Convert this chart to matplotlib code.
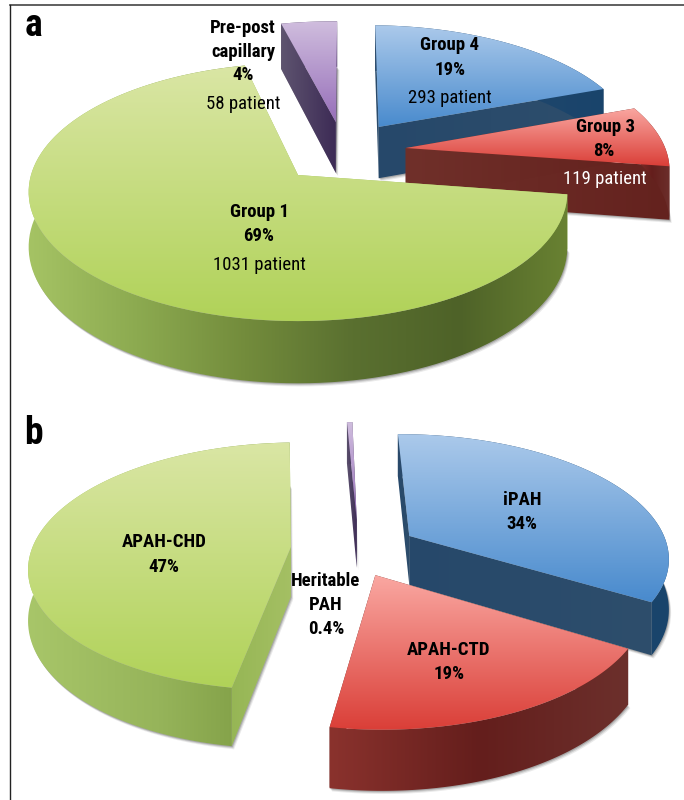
import numpy as np
import matplotlib
matplotlib.use("Agg")
import matplotlib.pyplot as plt
from matplotlib.patches import Polygon

# panel a
a_names = ["Group 1", "Pre-post capillary", "Group 4", "Group 3"]
a_pct = [69, 4, 19, 8]
a_patients = [1031, 58, 293, 119]

# panel b
b_names = ["APAH-CHD", "Heritable PAH", "iPAH", "APAH-CTD"]
b_pct = [47, 0.4, 34, 19]

GREEN = {"top": [(218, 230, 165), (176, 210, 88)], "side": [(165, 195, 100), (140, 170, 80), (115, 140, 60), (90, 112, 48), (78, 98, 40), (105, 130, 50)], "cut": [(160, 190, 95), (160, 190, 95)]}
GREEN_B = {"top": GREEN["top"], "side": [(168, 198, 105), (150, 180, 90), (120, 150, 62)], "cut": [(150, 182, 85), (165, 192, 100)]}
PURPLE = {"top": [(208, 190, 222), (150, 110, 185)], "side": [(95, 85, 112), (60, 42, 85)], "cut": [(95, 85, 112), (60, 42, 85)]}
BLUE = {"top": [(172, 202, 235), (72, 138, 205)], "side": [(42, 74, 106), (25, 68, 108)], "cut": [(38, 72, 106), (46, 78, 108)]}
RED = {"top": [(250, 168, 162), (218, 62, 55)], "side": [(138, 50, 45), (100, 30, 28), (108, 48, 44)], "cut": [(112, 48, 42), (100, 34, 30)]}

TEXT_FONT = ["Roboto Condensed", "Liberation Sans", "DejaVu Sans"]


def project(x, y, geo):
    w = 1 + geo["k"] * y
    return geo["cx"] + geo["rx"] * x / w, geo["cy"] - geo["ry"] * y / w, w


def gradient_fill(ax, verts, stops, vertical, z):
    verts = np.array(verts)
    x0, y0 = verts.min(axis=0)
    x1, y1 = verts.max(axis=0)
    n = 128
    pos = np.linspace(0, len(stops) - 1, n)
    rgb = np.array([np.interp(pos, np.arange(len(stops)), [s[c] for s in stops]) for c in range(3)]).T / 255
    img = rgb[:, None, :] if vertical else rgb[None, :, :]
    im = ax.imshow(img, extent=(x0 - 1, x1 + 1, y1 + 1, y0 - 1), aspect="auto", zorder=z, interpolation="bilinear")
    im.set_clip_path(Polygon(verts, closed=True, transform=ax.transData))


def draw_slice(ax, t1, t2, offset, colors, geo, z):
    t = np.radians(np.linspace(t1, t2, 120))
    ex, ey = offset
    rim_x, rim_y, rim_w = project(ex + np.cos(t), ey + np.sin(t), geo)
    ax_x, ax_y, ax_w = project(ex, ey, geo)
    d = geo["depth"]

    top = np.column_stack([np.r_[ax_x, rim_x], np.r_[ax_y, rim_y]])
    low = np.column_stack([np.r_[ax_x, rim_x], np.r_[ax_y + d / ax_w, rim_y + d / rim_w]])

    # soft shadow under the slice
    for grow, alpha in zip([4.5, 3, 1.5], [0.12, 0.2, 0.3]):
        ax.add_patch(Polygon(low + [grow * 0.5, grow * 0.7], closed=True, fc="#555555", ec="none", alpha=alpha, zorder=z))

    band = np.vstack([top[1:], low[1:][::-1]])
    cuts = [np.array([top[0], top[1], low[1], low[0]]), np.array([top[0], top[-1], low[-1], low[0]])]
    gradient_fill(ax, cuts[0], colors["cut"], False, z + 0.1)
    gradient_fill(ax, cuts[1], colors["cut"], False, z + 0.1)
    gradient_fill(ax, band, colors["side"], False, z + 0.2)
    gradient_fill(ax, top, colors["top"], True, z + 0.3)


def draw_pie(ax, pct, start, offsets, palette, order, geo, z0):
    # slices run clockwise from the start angle, the first one closes the circle
    frac = np.array(pct, dtype=float) / sum(pct) * 360
    ends = {}
    t = start
    for i in range(1, len(pct)):
        ends[i] = (t - frac[i], t)
        t -= frac[i]
    ends[0] = (start, t + 360)
    for n, i in enumerate(order):
        draw_slice(ax, ends[i][0], ends[i][1], offsets[i], palette[i], geo, z0 + n)


def label(ax, x, y, s, bold=True, size=13.5, color="black"):
    ax.text(x, y, s, ha="center", va="center", fontsize=size, color=color, zorder=50,
            fontweight="bold" if bold else "normal", family=TEXT_FONT)


fig = plt.figure(figsize=(6.84, 8), dpi=100)
ax = fig.add_axes([0, 0, 1, 1])

geo_a = {"cx": 298, "cy": 175, "rx": 267, "ry": 126.8, "k": 0.132, "depth": 54}
geo_b = {"cx": 340, "cy": 570, "rx": 266, "ry": 128, "k": 0.16, "depth": 51}

draw_pie(ax, a_pct, 103, [(0, 0), (0.15, 0.442), (0.318, 0.399), (0.415, 0.219)],
         [GREEN, PURPLE, BLUE, RED], [1, 2, 3, 0], geo_a, 1)
draw_pie(ax, b_pct, 92, [(-0.19, 0.185), (0.067, 0.418), (0.272, 0.278), (0.132, -0.04)],
         [GREEN_B, PURPLE, BLUE, RED], [1, 2, 0, 3], geo_b, 10)

ax.set_xlim(0, 684)
ax.set_ylim(800, 0)
ax.axis("off")

# frame of the figure
ax.plot([10, 684], [4.5, 4.5], color="#444444", lw=1.2, zorder=40)
ax.plot([10, 10], [4.5, 800], color="#222222", lw=1.0, zorder=40)

ax.text(33, 25, "a", ha="center", va="center", fontsize=27, fontweight="bold", family=TEXT_FONT, zorder=50)
ax.text(33, 433, "b", ha="center", va="center", fontsize=27, fontweight="bold", family=TEXT_FONT, zorder=50)

label(ax, 259, 212, a_names[0])
label(ax, 259, 236, f"{a_pct[0]}%")
label(ax, 259, 265, f"{a_patients[0]} patient", bold=False)
pre, cap = a_names[1].split(" ")
label(ax, 243, 28, pre)
label(ax, 243, 52, cap)
label(ax, 243, 75, f"{a_pct[1]}%")
label(ax, 243, 104, f"{a_patients[1]} patient", bold=False)
label(ax, 450, 45, a_names[2])
label(ax, 450, 70, f"{a_pct[2]}%")
label(ax, 450, 98, f"{a_patients[2]} patient", bold=False)
label(ax, 605, 127, a_names[3])
label(ax, 604, 151, f"{a_pct[3]}%")
label(ax, 605, 179, f"{a_patients[3]} patient", bold=False, color="white")

label(ax, 164, 542, b_names[0])
label(ax, 164, 567, f"{b_pct[0]}%")
her, pah = b_names[1].split(" ")
label(ax, 326, 581, her)
label(ax, 326, 605, pah)
label(ax, 326, 629, f"{b_pct[1]}%")
label(ax, 522, 500, b_names[2])
label(ax, 522, 524, f"{b_pct[2]}%")
label(ax, 449, 650, b_names[3])
label(ax, 449, 674, f"{b_pct[3]}%")

fig.savefig("out.png", dpi=100, facecolor="white")
